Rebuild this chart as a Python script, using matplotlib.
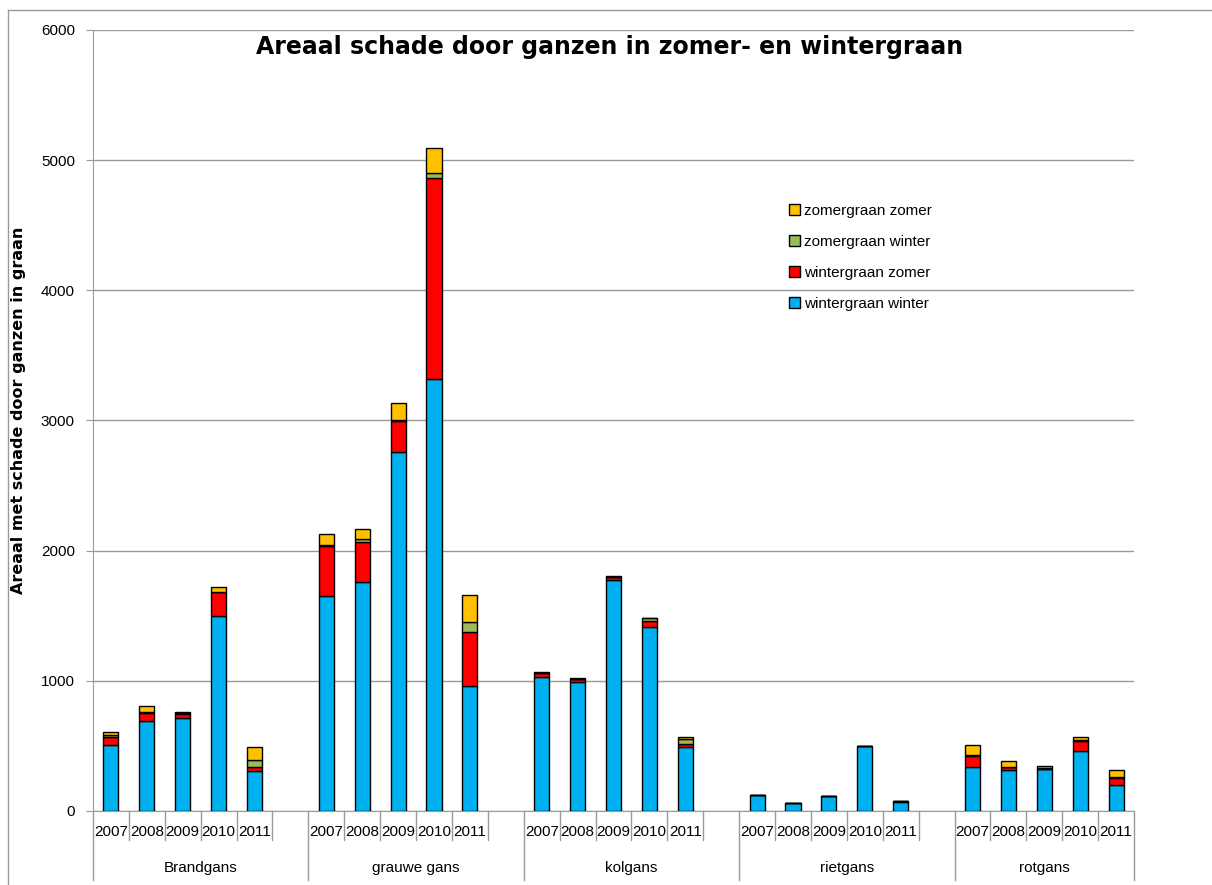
import numpy as np
import matplotlib
matplotlib.use("Agg")
import matplotlib.pyplot as plt
from matplotlib.transforms import blended_transform_factory

# data
groups = ["Brandgans", "grauwe gans", "kolgans", "rietgans", "rotgans"]
years = ["2007", "2008", "2009", "2010", "2011"]

wintergraan_winter = [505, 694, 717, 1498, 305,
                      1654, 1757, 2761, 3319, 960,
                      1032, 991, 1772, 1411, 494,
                      125, 61, 118, 497, 70,
                      340, 315, 323, 463, 200]
wintergraan_zomer = [60, 60, 30, 182, 35,
                     385, 312, 235, 1541, 413,
                     25, 20, 24, 50, 22,
                     0, 0, 0, 0, 4,
                     82, 20, 3, 74, 56]
zomergraan_winter = [20, 10, 8, 5, 52,
                     5, 23, 5, 39, 77,
                     5, 5, 4, 18, 35,
                     0, 0, 0, 0, 0,
                     8, 5, 3, 8, 5]
zomergraan_zomer = [20, 40, 5, 35, 97,
                    82, 72, 131, 197, 210,
                    8, 8, 3, 6, 15,
                    0, 0, 0, 0, 0,
                    77, 47, 14, 26, 51]

series = [
    ("wintergraan winter", wintergraan_winter, "#00B0F0"),
    ("wintergraan zomer", wintergraan_zomer, "#FF0000"),
    ("zomergraan winter", zomergraan_winter, "#9BBB59"),
    ("zomergraan zomer", zomergraan_zomer, "#FFC000"),
]

# category slots: 5 years per group, one empty slot between groups
pos = []
for g in range(len(groups)):
    for y in range(len(years)):
        pos.append(g * 6 + y)
pos = np.array(pos)
nslots = len(groups) * 6 - 1

fig = plt.figure(figsize=(12.12, 8.85), dpi=100)
ax = fig.add_axes([93 / 1212, 1 - 811 / 885, (1134 - 93) / 1212, (811 - 30) / 885])

bottom = np.zeros(len(pos))
handles = []
for name, vals, col in series:
    vals = np.array(vals, dtype=float)
    b = ax.bar(pos, vals, width=0.42, bottom=bottom, color=col,
               edgecolor="black", linewidth=1.0, label=name, zorder=3)
    handles.append(b)
    bottom += vals

ax.set_xlim(-0.5, nslots - 0.5)
ax.set_ylim(0, 6000)
ax.set_yticks(range(0, 6001, 1000))
ax.yaxis.grid(True, color="#9a9a9a", linewidth=1.0, zorder=0)
ax.tick_params(axis="y", length=5, color="#9a9a9a", labelsize=11, pad=8)
for lab in ax.get_yticklabels():
    lab.set_fontfamily("Liberation Sans")

for side in ["top", "right"]:
    ax.spines[side].set_visible(False)
ax.spines["left"].set_color("#9a9a9a")
ax.spines["bottom"].set_color("#9a9a9a")

# x axis: slot separators and group separators
ax.set_xticks([])
trans = blended_transform_factory(ax.transData, ax.transAxes)
h_axes = (811 - 30)
short = 29 / h_axes
long_ = 69 / h_axes
group_edges = [g * 6 - 0.5 for g in range(len(groups))] + [nslots - 0.5]
for k in range(nslots + 1):
    x = k - 0.5
    length = long_ if x in group_edges else short
    ax.plot([x, x], [0, -length], transform=trans, color="#9a9a9a",
            linewidth=1.0, clip_on=False)

for i, p in enumerate(pos):
    ax.text(p, -21 / h_axes, years[i % 5], transform=trans, ha="center",
            va="center", fontsize=11, family="Liberation Sans")
for g, name in enumerate(groups):
    left = group_edges[g]
    right = group_edges[g + 1]
    ax.text((left + right) / 2, -57 / h_axes, name, transform=trans,
            ha="center", va="center", fontsize=11, family="Liberation Sans")

ax.set_ylabel("Areaal met schade door ganzen in graan", fontsize=11.5,
              fontweight="bold", family="DejaVu Sans")
ax.yaxis.set_label_coords(-67 / 1041, 0.5 + 10 / h_axes)

fig.text(610 / 1212, 1 - 47 / 885, "Areaal schade door ganzen in zomer- en wintergraan",
         ha="center", va="center", fontsize=17, fontweight="bold",
         family="DejaVu Sans")

leg = ax.legend(handles[::-1], [s[0] for s in series][::-1],
                loc="upper left", bbox_to_anchor=(690 / 1041, 1 - 168 / h_axes),
                frameon=False, prop={"family": "Liberation Sans", "size": 11},
                handlelength=0.7, handleheight=0.7, handletextpad=0.3,
                labelspacing=1.1, borderaxespad=0)

# figure frame lines (top and left)
fig.add_artist(plt.Line2D([8 / 1212, 1], [1 - 10 / 885, 1 - 10 / 885],
                          color="#9a9a9a", linewidth=1.0))
fig.add_artist(plt.Line2D([8 / 1212, 8 / 1212], [0, 1 - 10 / 885],
                          color="#9a9a9a", linewidth=1.0))

fig.savefig("out.png", dpi=100)
